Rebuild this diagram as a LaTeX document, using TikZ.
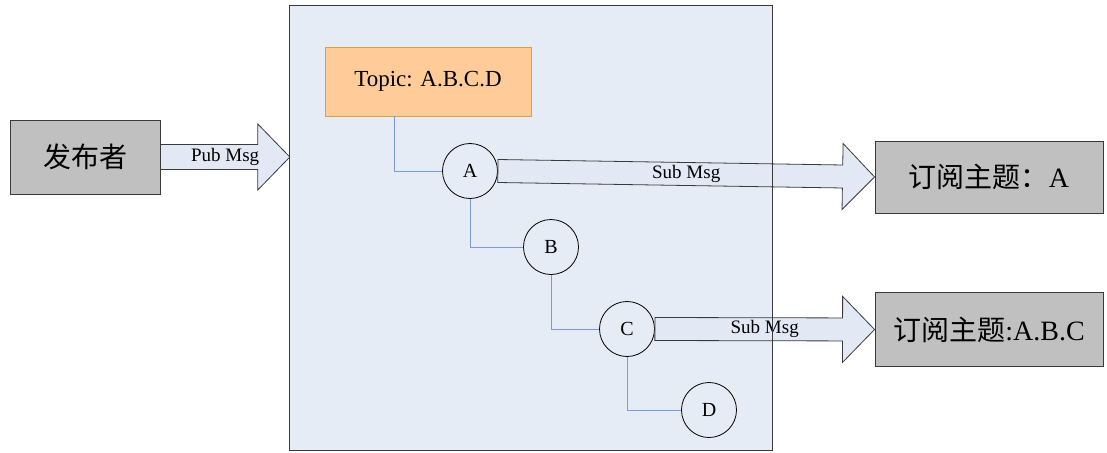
\documentclass[tikz,border=0pt]{standalone}
\usepackage{fontspec}
\setmainfont{Liberation Serif}
\newfontfamily\cjk{Noto Sans CJK SC}
\usepackage{xcolor}
\usepackage{tikz}
\usetikzlibrary{positioning,calc}

\definecolor{boxgray}{HTML}{C0C0C0}
\definecolor{brokerblue}{HTML}{E6ECF6}
\definecolor{arrowblue}{HTML}{E2E9F5}
\definecolor{topicorange}{HTML}{FFCC99}
\definecolor{topicedge}{HTML}{D6A23C}
\definecolor{treeblue}{HTML}{7A9BD3}
\definecolor{edgegray}{HTML}{3A3A3A}

% block arrow: start, end, shaft half width, name, label
\newcommand{\msgarrow}[5]{
    \coordinate (h) at ($(#2)!32pt!(#1)$);
    \draw [msgshape] ($(#1)!#3!90:(#2)$) -- ($(h)!#3!-90:(#1)$) -- ($(h)!33pt!-90:(#1)$)
        -- (#2) -- ($(h)!33pt!90:(#1)$) -- ($(h)!#3!90:(#1)$) -- ($(#1)!#3!-90:(#2)$) -- cycle;
    \node [msglabel] (#4) at ($(#1)!0.5!(#2)$) {#5};
}

\begin{document}
\begin{tikzpicture}[x=1pt, y=-1pt,
    graybox/.style={draw=edgegray, line width=0.9pt, fill=boxgray, inner sep=0pt,
        font=\fontsize{28}{30}\selectfont},
    broker/.style={fill=brokerblue, inner sep=0pt, minimum width=482, minimum height=444},
    topicbox/.style={draw=topicedge, line width=0.9pt, fill=topicorange, minimum width=206,
        minimum height=69, font=\fontsize{23}{25}\selectfont},
    level/.style={circle, draw=black, line width=0.8pt, fill=brokerblue, minimum size=55,
        inner sep=0pt, font=\fontsize{20}{22}\selectfont},
    treeline/.style={draw=treeblue, line width=1pt},
    msgshape/.style={draw=edgegray, line width=0.8pt, fill=arrowblue},
    msglabel/.style={inner sep=0pt, font=\fontsize{19}{21}\selectfont}]
    \useasboundingbox (0,0) rectangle (1107,452);

    % broker and topic
    \node [broker] (broker) at (531,228) {};
    \node [topicbox] (topic) at (428,81.5) {Topic: A.B.C.D};

    % topic levels
    \foreach \name/\x/\y in {A/470/171, B/551/247, C/627/329, D/709/410} {
        \node [level] (\name) at (\x,\y) {\name};
    }
    \draw [treeline] ([xshift=70]topic.south west) |- (A.west);
    \draw [treeline] (A.south) |- (B.west);
    \draw [treeline] (B.south) |- (C.west);
    \draw [treeline] (C.south) |- (D.west);

    % clients
    \node [graybox, minimum width=150, minimum height=74] (pub) at (85,157) {\cjk 发布者};
    \node [graybox, minimum width=228, minimum height=72] (subA) at (989,177) {{\cjk 订阅主题：}A};
    \node [graybox, minimum width=228, minimum height=74] (subABC) at (989,329.5) {{\cjk 订阅主题}:A.B.C};

    % messages
    \coordinate (pubin) at (broker.west |- pub.east);
    \msgarrow{pub.east}{pubin}{12.5pt}{pubmsg}{Pub Msg}
    \msgarrow{A.east}{subA.west}{11.5pt}{submsgA}{Sub Msg}
    \msgarrow{C.east}{subABC.west}{11.5pt}{submsgC}{Sub Msg}

    \draw [edgegray, line width=0.9pt] (broker.north west) rectangle (broker.south east);
\end{tikzpicture}
\end{document}
